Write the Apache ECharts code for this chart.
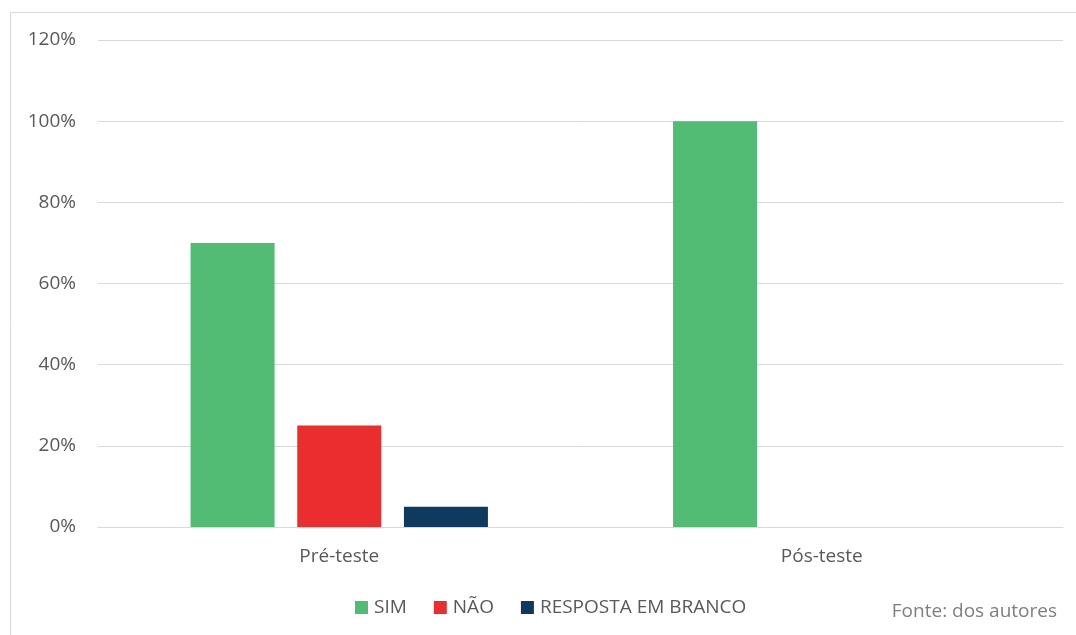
<!DOCTYPE html>
<html>
<head>
<meta charset="utf-8">
<script src="https://cdn.jsdelivr.net/npm/echarts@6/dist/echarts.min.js"></script>
<style>
  html, body { margin: 0; padding: 0; background: #ffffff; }
  #chart { width: 1076px; height: 635px; }
</style>
</head>
<body>
<div id="chart"></div>
<script>
// Survey answers before and after the test (percent of respondents)
const categories = ['Pré-teste', 'Pós-teste'];
const simValues = [70, 100];
const naoValues = [25, 0];
const brancoValues = [5, 0];
const yTicks = [0, 20, 40, 60, 80, 100, 120];

const textColor = '#595959';
const fontFamily = '"Open Sans", "Noto Sans", sans-serif';
const fontSize = 19;

const chart = echarts.init(document.getElementById('chart'), null, { renderer: 'canvas' });

chart.setOption({
  animation: false,
  backgroundColor: '#ffffff',
  textStyle: { fontFamily: fontFamily },
  grid: { left: 98, right: 13, top: 40, bottom: 108, containLabel: false },
  legend: {
    bottom: 13,
    left: 350,
    itemWidth: 13,
    itemHeight: 13,
    itemGap: 27,
    icon: 'rect',
    textStyle: { color: textColor, fontSize: fontSize, fontFamily: fontFamily, padding: [0, 0, 0, 1] },
    data: ['SIM', 'NÃO', 'RESPOSTA EM BRANCO']
  },
  xAxis: {
    type: 'category',
    data: categories,
    axisLine: { show: true, lineStyle: { color: '#d9d9d9', width: 1 } },
    axisTick: { show: false },
    axisLabel: { color: textColor, fontSize: fontSize, margin: 20, fontFamily: fontFamily }
  },
  yAxis: {
    type: 'value',
    min: yTicks[0],
    max: yTicks[yTicks.length - 1],
    interval: 20,
    axisLine: { show: false },
    axisTick: { show: false },
    splitLine: { lineStyle: { color: '#d9d9d9', width: 1 } },
    axisLabel: { color: textColor, fontSize: fontSize, margin: 22, fontFamily: fontFamily, formatter: '{value}%' }
  },
  series: [
    {
      name: 'SIM', type: 'bar', data: simValues,
      barWidth: 84, barGap: '27%',
      itemStyle: { color: '#52bb74' }
    },
    {
      name: 'NÃO', type: 'bar', data: naoValues,
      barWidth: 84, barGap: '27%',
      itemStyle: { color: '#ea2d2d' }
    },
    {
      name: 'RESPOSTA EM BRANCO', type: 'bar', data: brancoValues,
      barWidth: 84, barGap: '27%',
      itemStyle: { color: '#0e3a5f' }
    }
  ],
  graphic: [
    {
      type: 'polyline',
      silent: true,
      shape: { points: [[10.5, 635], [10.5, 12.5], [1076, 12.5]] },
      style: { stroke: '#d9d9d9', lineWidth: 1, fill: null }
    },
    {
      type: 'text',
      right: 19,
      top: 602,
      style: { text: 'Fonte: dos autores', fill: '#7f7f7f', fontSize: fontSize, fontFamily: fontFamily }
    }
  ]
});
</script>
</body>
</html>
